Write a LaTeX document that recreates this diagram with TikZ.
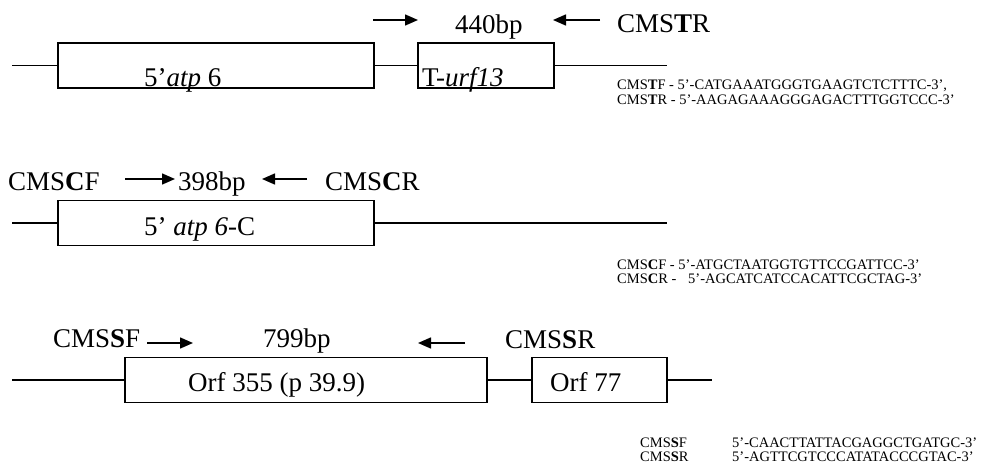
\documentclass[tikz,border=0pt]{standalone}
\usepackage{fontspec}
\setmainfont{Liberation Serif}
\usetikzlibrary{arrows.meta,positioning}

\begin{document}
\begin{tikzpicture}[x=1pt, y=-1pt, >={Triangle[length=13pt,width=11pt]},
    every node/.style={font=\fontsize{27}{30}\selectfont, inner sep=0pt},
    gene/.style={draw, line width=1.5pt, minimum height=45pt},
    lbl/.style={anchor=base west},
    seq/.style={font=\fontsize{14.5}{15}\selectfont, anchor=base west},
    dna/.style={line width=1.5pt},
    primer/.style={line width=1.5pt, ->}]
    \useasboundingbox (0,0) rectangle (991,466);

    % T-urf13 region
    \node[gene, minimum width=316pt] (atp) at (216,65.5) {};
    \node[gene, minimum width=136pt] (urf) at (486,65.5) {};
    \coordinate (tl) at (12,65.5);
    \coordinate (tr) at (667,65.5);
    \draw[dna] (tl) -- (atp.west);
    \draw[dna] (atp.east) -- (urf.west);
    \draw[dna] (urf.east) -- (tr);
    \node[lbl] (atptxt) at (144,86) {5’\textit{atp} 6};
    \node[lbl] (urftxt) at (422,86) {T-\textit{urf13}};

    % T primers
    \coordinate (tfa) at (373,20);
    \coordinate (tfb) at (418,20);
    \draw[primer] (tfa) -- (tfb);
    \node[lbl] (tsize) at (455,33) {440bp};
    \coordinate (tra) at (600,20);
    \coordinate (trb) at (553,20);
    \draw[primer] (tra) -- (trb);
    \node[lbl] (tname) at (617,32) {CMS\textbf{T}R};
    \node[seq] (tseqf) at (617,89) {CMS\textbf{T}F - 5’-CATGAAATGGGTGAAGTCTCTTTC-3’,};
    \node[seq] (tseqr) at (617,104) {CMS\textbf{T}R - 5’-AAGAGAAAGGGAGACTTTGGTCCC-3’};

    % atp6-C region
    \node[gene, minimum width=316pt] (atpc) at (216,223) {};
    \coordinate (cl) at (12,223);
    \coordinate (cr) at (667,223);
    \draw[dna] (cl) -- (atpc.west);
    \draw[dna] (atpc.east) -- (cr);
    \node[lbl] (atpctxt) at (144,235) {5’ \textit{atp 6}-C};

    % C primers
    \node[lbl] (cfname) at (8,190) {CMS\textbf{C}F};
    \coordinate (cfa) at (125,179);
    \coordinate (cfb) at (175,179);
    \draw[primer] (cfa) -- (cfb);
    \node[lbl] (csize) at (178,190) {398bp};
    \coordinate (cra) at (307,179);
    \coordinate (crb) at (262,179);
    \draw[primer] (cra) -- (crb);
    \node[lbl] (crname) at (325,190) {CMS\textbf{C}R};
    \node[seq] (cseqf) at (617,269) {CMS\textbf{C}F - 5’-ATGCTAATGGTGTTCCGATTCC-3’};
    \node[seq] (cseqr) at (617,283) {\makebox[71pt][l]{CMS\textbf{C}R -}5’-AGCATCATCCACATTCGCTAG-3’};

    % Orf355 / Orf77 region
    \node[gene, minimum width=362pt] (orfa) at (306,380) {};
    \node[gene, minimum width=135pt] (orfb) at (599.5,380) {};
    \coordinate (sl) at (12,380);
    \coordinate (sr) at (712,380);
    \draw[dna] (sl) -- (orfa.west);
    \draw[dna] (orfa.east) -- (orfb.west);
    \draw[dna] (orfb.east) -- (sr);
    \node[lbl] (orfatxt) at (188,391) {Orf 355 (p 39.9)};
    \node[lbl] (orfbtxt) at (550,391) {Orf 77};

    % S primers
    \node[lbl] (sfname) at (53,347) {CMS\textbf{S}F};
    \coordinate (sfa) at (147,343);
    \coordinate (sfb) at (193,343);
    \draw[primer] (sfa) -- (sfb);
    \node[lbl] (ssize) at (263,347) {799bp};
    \coordinate (sra) at (465,343);
    \coordinate (srb) at (418,343);
    \draw[primer] (sra) -- (srb);
    \node[lbl] (srname) at (505,348) {CMS\textbf{S}R};
    \node[seq] (sseqf) at (640,447) {\makebox[92pt][l]{CMS\textbf{S}F}5’-CAACTTATTACGAGGCTGATGC-3’};
    \node[seq] (sseqr) at (640,461) {\makebox[92pt][l]{CMS\textbf{S}R}5’-AGTTCGTCCCATATACCCGTAC-3’};
\end{tikzpicture}
\end{document}
